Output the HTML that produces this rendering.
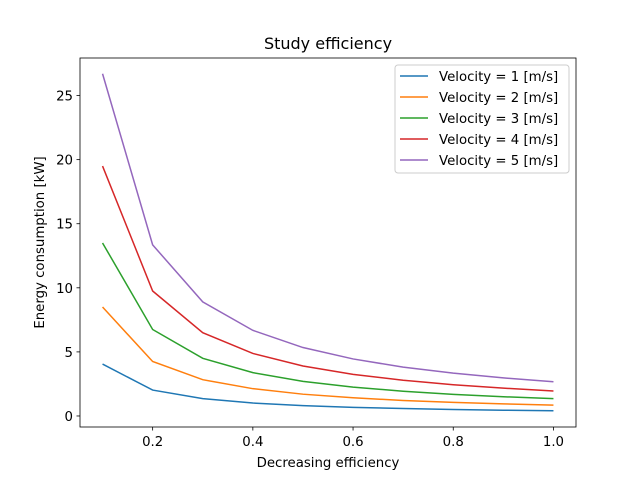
<!DOCTYPE html>
<html><head><meta charset="utf-8"><style>body{margin:0;background:#fff}svg{display:block;font-family:"DejaVu Sans","Liberation Sans",sans-serif}</style></head>
<body>
<svg id="c" width="640" height="480"></svg>
<script>
const xValues=[0.1,0.2,0.3,0.4,0.5,0.6,0.7,0.8,0.9,1.0];
const v1=[4.05,2.02,1.35,1.01,0.81,0.675,0.58,0.51,0.45,0.405];
const v2=[8.5,4.25,2.83,2.13,1.7,1.42,1.21,1.06,0.94,0.85];
const v3=[13.5,6.75,4.5,3.38,2.7,2.25,1.93,1.69,1.5,1.35];
const v4=[19.5,9.75,6.5,4.88,3.9,3.25,2.79,2.44,2.17,1.95];
const v5=[26.7,13.35,8.9,6.68,5.34,4.45,3.81,3.34,2.97,2.67];
const seriesLabels=["Velocity = 1 [m/s]","Velocity = 2 [m/s]","Velocity = 3 [m/s]","Velocity = 4 [m/s]","Velocity = 5 [m/s]"];
const xTicks=[0.2,0.4,0.6,0.8,1.0];
const xTickLabels=["0.2","0.4","0.6","0.8","1.0"];
const yTicks=[0,5,10,15,20,25];
const yTickLabels=["0","5","10","15","20","25"];
const colors=["#1f77b4","#ff7f0e","#2ca02c","#d62728","#9467bd"];
const L=80,R=576,T=58,B=427;
const x0=0.055,x1=1.045,y0=-0.86,y1=27.93;
const sx=v=>L+(v-x0)/(x1-x0)*(R-L);
const sy=v=>B-(v-y0)/(y1-y0)*(B-T);
const svg=document.getElementById('c');
const NS='http://www.w3.org/2000/svg';
function mk(t,a,txt){const e=document.createElementNS(NS,t);for(const k in a)e.setAttribute(k,a[k]);if(txt!==undefined)e.textContent=txt;svg.appendChild(e);return e;}
const series=[v1,v2,v3,v4,v5];
series.forEach((s,i)=>{
 const p=mk('polyline',{points:s.map((v,j)=>sx(xValues[j])+','+sy(v)).join(' '),fill:'none',stroke:colors[i],'stroke-width':1.5});
 
 
});
const f=mk('rect',{x:L,y:T,width:R-L,height:B-T,fill:'none',stroke:'#000','stroke-width':0.8});


xTicks.forEach((v,i)=>{
 mk('line',{x1:sx(v),x2:sx(v),y1:B,y2:B+3.5,stroke:'#000','stroke-width':0.8});
 const t=mk('text',{x:sx(v),y:B+19,'text-anchor':'middle','font-size':13.3},xTickLabels[i]);
 
 
});
yTicks.forEach((v,i)=>{
 mk('line',{x1:L-3.5,x2:L,y1:sy(v),y2:sy(v),stroke:'#000','stroke-width':0.8});
 const t=mk('text',{x:L-7,y:sy(v)+5,'text-anchor':'end','font-size':13.3},yTickLabels[i]);
 
 
});
let t=mk('text',{x:(L+R)/2,y:49,'text-anchor':'middle','font-size':16},'Study efficiency');


t=mk('text',{x:(L+R)/2,y:467,'text-anchor':'middle','font-size':13.3},'Decreasing efficiency');


t=mk('text',{x:44,y:(T+B)/2,'text-anchor':'middle','font-size':13.3,transform:'rotate(-90 44 '+((T+B)/2)+')'},'Energy consumption [kW]');


const lg=mk('rect',{x:395,y:65,width:174,height:108,rx:3,fill:'#fff','fill-opacity':0.8,stroke:'#ccc','stroke-width':1});


seriesLabels.forEach((s,i)=>{
 const y=76+i*21;
 mk('line',{x1:400,x2:428,y1:y,y2:y,stroke:colors[i],'stroke-width':1.5});
 const e=mk('text',{x:439,y:y+5,'font-size':13.3},s);
 
 
});
</script>
</body></html>
